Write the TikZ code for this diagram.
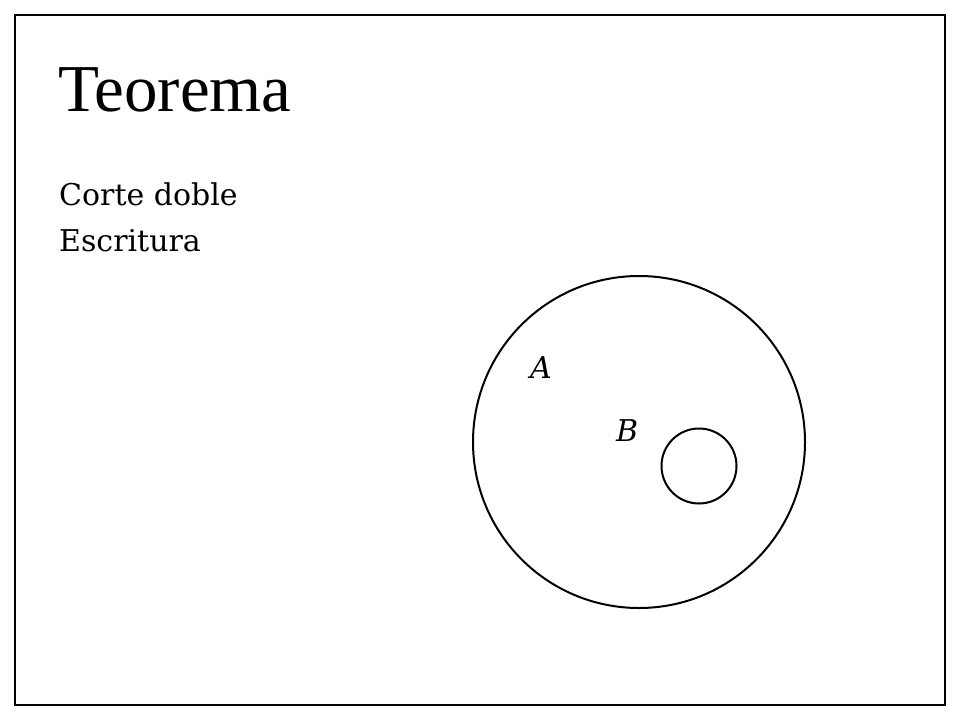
\documentclass[tikz,border=0pt]{standalone}
\usepackage{fontspec}
\setmainfont{DejaVu Serif}
\newfontfamily\titlefont{Liberation Serif}
\begin{document}
\begin{tikzpicture}[x=1pt,y=-1pt,
  frame/.style={draw=black,line width=1.5pt},
  ring/.style={draw=black,line width=2pt},
  titletext/.style={anchor=base west,inner sep=0pt,font=\titlefont\fontsize{67}{74}\selectfont},
  bodytext/.style={anchor=base west,inner sep=0pt,font=\fontsize{30}{36}\selectfont},
  setlabel/.style={anchor=base west,inner sep=0pt,font=\itshape\fontsize{30}{36}\selectfont}]
\useasboundingbox (0,0) rectangle (960,720);
\draw[frame] (15,15) rectangle (945,705);
\node[titletext] (title) at (58,111) {Teorema};
\node[bodytext] (item1) at (59,205) {Corte doble};
\node[bodytext] (item2) at (59,251) {Escritura};
\node[ring,circle,minimum size=332pt,inner sep=0pt] (outer) at (639,442) {};
\node[ring,circle,minimum size=75pt,inner sep=0pt] (inner) at (699,466) {};
\node[setlabel] (la) at (530,378) {A};
\node[setlabel] (lb) at (616,441) {B};
\end{tikzpicture}
\end{document}
